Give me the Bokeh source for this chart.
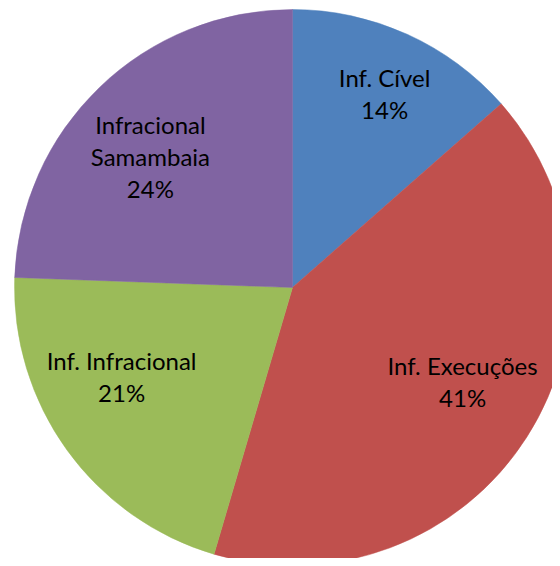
import math
from bokeh.plotting import figure
from bokeh.models import Range1d, ColumnDataSource
from bokeh.core.properties import value
from bokeh.embed import file_html
from bokeh.resources import INLINE

# ---- data ----
categories = ["Inf. Cível", "Inf. Execuções", "Inf. Infracional", "Infracional\nSamambaia"]
shares = [13.5, 41.0, 21.0, 24.4]
colors = ["#4F81BD", "#C0504D", "#9BBB59", "#8064A2"]

# ---- layout (pixels, 1 data unit = 1 px) ----
W, H = 552, 558
CX, CY, R = 292, 271, 278
LABEL_R = 0.7 * R
# small label nudges (px, y up) to mimic the original label placement
nudge_x = [12, 6, -13, -7]
nudge_y = [17, 11, 25, -9]

total = sum(shares)
starts, ends, lx, ly, texts = [], [], [], [], []
cum = 0.0
for i, s in enumerate(shares):
    a0 = cum / total * 2 * math.pi
    cum += s
    a1 = cum / total * 2 * math.pi
    # clockwise from 12 o'clock -> anticlockwise angles in math convention
    starts.append(math.pi / 2 - a1)
    ends.append(math.pi / 2 - a0)
    mid = (a0 + a1) / 2
    lx.append(CX + LABEL_R * math.sin(mid) + nudge_x[i])
    ly.append(CY + LABEL_R * math.cos(mid) + nudge_y[i])
    texts.append(f"{categories[i]}\n{round(s / total * 100):.0f}%")

src = ColumnDataSource(dict(start=starts, end=ends, color=colors))
lab = ColumnDataSource(dict(x=lx, y=ly, text=texts))

p = figure(width=W, height=H, output_backend="svg", toolbar_location=None,
           x_range=Range1d(0, W), y_range=Range1d(0, H),
           min_border=0, outline_line_color=None, background_fill_color="white",
           border_fill_color="white")
p.axis.visible = False
p.grid.visible = False

p.wedge(x=CX, y=CY, radius=R, start_angle="start", end_angle="end",
        fill_color="color", line_color="color", line_width=0.5, source=src)

p.text(x="x", y="y", text="text", source=lab, text_align="center",
       text_baseline="middle", text_font=value("Lato"), text_font_size="24px",
       text_color="#000000", text_line_height=1.1)

open("out.html", "w").write(file_html(p, INLINE))
